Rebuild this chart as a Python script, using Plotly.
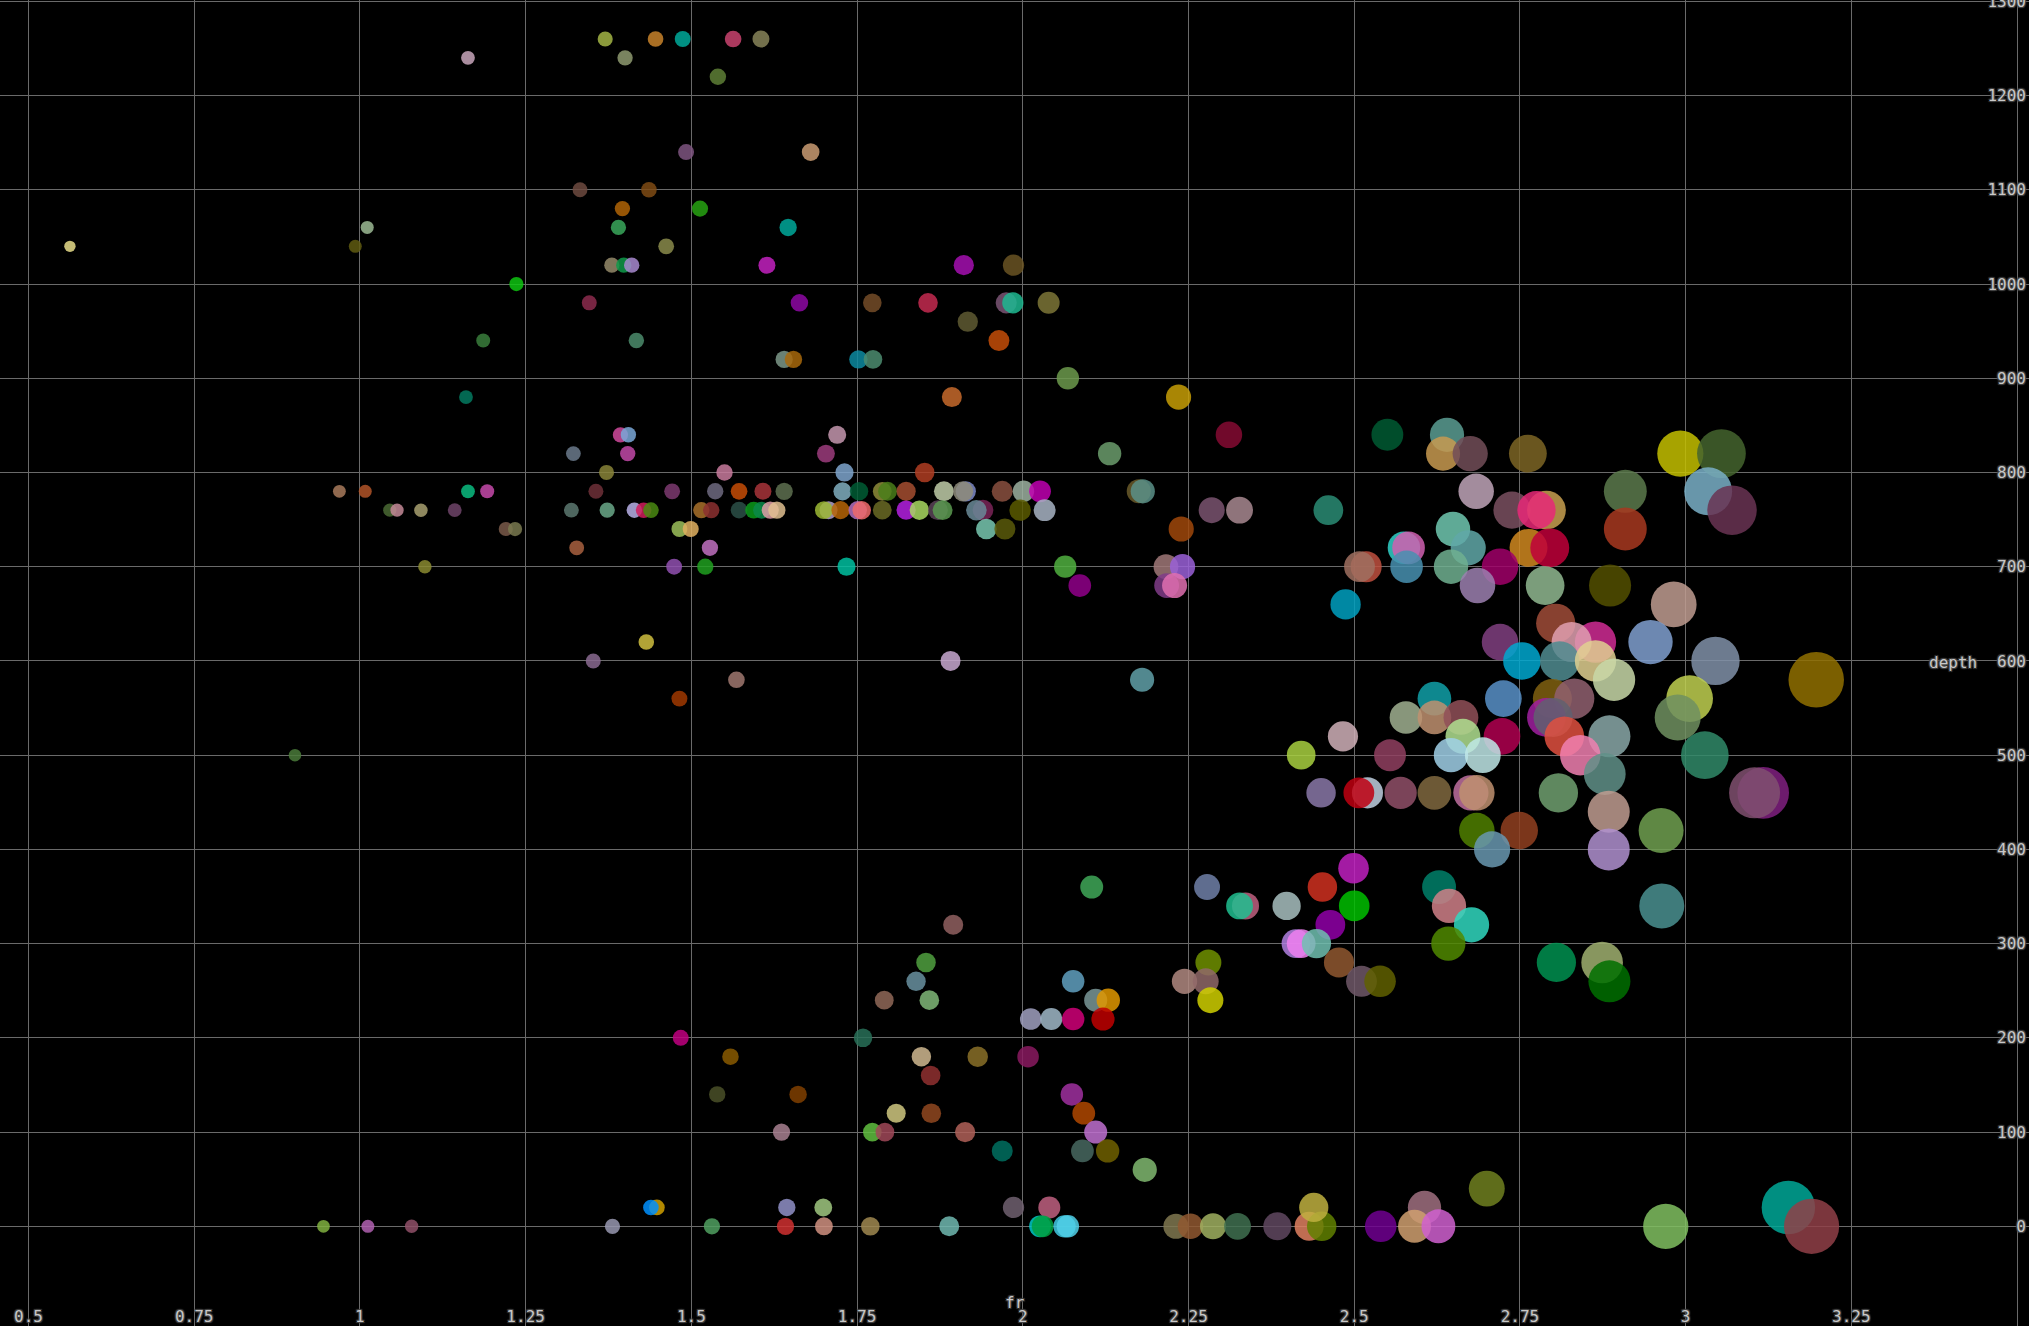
import numpy as np
import plotly.graph_objects as go

# ---- data: fr (x) and depth (y), row by row ----
fr = [
    1.370, 1.446, 1.487, 1.563, 1.605,                      # 1260
    1.163, 1.400,                                            # 1240
    1.540,                                                   # 1220
    1.492, 1.680,                                            # 1140
    1.332, 1.436,                                            # 1100
    1.396, 1.513,                                            # 1080
    1.011, 1.390, 1.646,                                     # 1060
    0.5625, 0.993, 1.462,                                    # 1040
    1.380, 1.398, 1.410, 1.614, 1.911, 1.986,                # 1020
    1.236,                                                   # 1000
    1.346, 1.663, 1.773, 1.857, 1.975, 1.985, 2.039,         # 980
    1.917,                                                   # 960
    1.186, 1.417, 1.964,                                     # 940
    1.640, 1.654, 1.752, 1.774,                              # 920
    2.068,                                                   # 900
    1.160, 1.893, 2.235,                                     # 880
    1.393, 1.405, 1.720, 2.311, 2.550, 2.640,                # 840
    1.322, 1.404, 1.703, 2.131, 2.634, 2.675, 2.762, 2.992, 3.054,  # 820
    1.372, 1.550, 1.731, 1.852,                              # 800
    0.969, 1.008, 1.163, 1.192, 1.356, 1.471, 1.536, 1.572, 1.608, 1.640,
    1.728, 1.753, 1.788, 1.796, 1.824, 1.881, 1.914, 1.910, 1.969, 2.001,
    2.026, 2.175, 2.181, 2.684, 2.909, 3.034,                # 780
    1.045, 1.056, 1.092, 1.143, 1.319, 1.373, 1.414, 1.428, 1.439, 1.515,
    1.530, 1.572, 1.594, 1.606, 1.619, 1.629, 1.707, 1.700, 1.725, 1.751,
    1.757, 1.788, 1.824, 1.844, 1.872, 1.879, 1.940, 1.930, 1.996, 2.033,
    2.285, 2.327, 2.461, 2.738, 2.790, 2.775, 3.070,         # 760
    1.220, 1.234, 1.482, 1.499, 1.945, 1.973, 2.239, 2.649, 2.909,  # 740
    1.327, 1.528, 2.575, 2.582, 2.672, 2.763, 2.795,         # 720
    1.098, 1.474, 1.521, 1.734, 2.064, 2.216, 2.241, 2.518, 2.508, 2.579,
    2.646, 2.720,                                            # 700
    2.086, 2.217, 2.229, 2.686, 2.788, 2.886,                # 680
    2.487, 2.982,                                            # 660
    2.804,                                                   # 640
    1.432, 2.720, 2.864, 2.828, 2.947,                       # 620
    1.352, 1.891, 2.753, 2.810, 2.864, 3.045,                # 600
    1.568, 2.180, 2.892, 3.197,                              # 580
    1.482, 2.621, 2.725, 2.799, 2.832, 3.006,                # 560
    2.578, 2.621, 2.661, 2.790, 2.800, 2.988,                # 540
    2.483, 2.664, 2.723, 2.817, 2.885,                       # 520
    0.902, 2.420, 2.554, 2.646, 2.694, 2.841, 3.029,         # 500
    2.878,                                                   # 480
    2.450, 2.520, 2.507, 2.570, 2.621, 2.676, 2.685, 2.808, 3.117, 3.104,  # 460
    2.884,                                                   # 440
    2.685, 2.749, 2.963,                                     # 420
    2.708, 2.884,                                            # 400
    2.499,                                                   # 380
    2.104, 2.278, 2.452, 2.628,                              # 360
    2.336, 2.327, 2.398, 2.500, 2.643, 2.964,                # 340
    1.895, 2.464, 2.677,                                     # 320
    2.412, 2.420, 2.443, 2.642,                              # 300
    1.854, 2.280, 2.477, 2.805, 2.874,                       # 280
    1.839, 2.076, 2.244, 2.276, 2.511, 2.539, 2.885,         # 260
    1.791, 1.859, 2.110, 2.129, 2.283,                       # 240
    2.012, 2.043, 2.076, 2.121,                              # 220
    1.484, 1.759,                                            # 200
    1.559, 1.847, 1.932, 2.008,                              # 180
    1.861,                                                   # 160
    1.539, 1.661, 2.074,                                     # 140
    1.809, 1.862, 2.092,                                     # 120
    1.636, 1.773, 1.792, 1.913, 2.110,                       # 100
    1.969, 2.090, 2.128,                                     # 80
    2.184,                                                   # 60
    2.700,                                                   # 40
    1.448, 1.439, 1.644, 1.699, 1.986, 2.040, 2.606, 3.155,  # 20
    0.945, 1.012, 1.078, 1.381, 1.531, 1.642, 1.700, 1.770, 1.889, 2.026,
    2.030, 2.063, 2.068, 2.231, 2.253, 2.287, 2.324, 2.384, 2.432, 2.451,
    2.540, 2.591, 2.627, 2.970, 3.190,                       # 0
    2.439,                                                   # 20 (on top)
]

depth = (
    [1260] * 5 + [1240] * 2 + [1220] * 1 + [1140] * 2 + [1100] * 2 + [1080] * 2
    + [1060] * 3 + [1040] * 3 + [1020] * 6 + [1000] * 1 + [980] * 7 + [960] * 1
    + [940] * 3 + [920] * 4 + [900] * 1 + [880] * 3 + [840] * 6 + [820] * 9
    + [800] * 4 + [780] * 26 + [760] * 37 + [740] * 9 + [720] * 7 + [700] * 12
    + [680] * 6 + [660] * 2 + [640] * 1 + [620] * 5 + [600] * 6 + [580] * 4
    + [560] * 6 + [540] * 6 + [520] * 5 + [500] * 7 + [480] * 1 + [460] * 10
    + [440] * 1 + [420] * 3 + [400] * 2 + [380] * 1 + [360] * 4 + [340] * 6
    + [320] * 3 + [300] * 4 + [280] * 5 + [260] * 7 + [240] * 5 + [220] * 4
    + [200] * 2 + [180] * 4 + [160] * 1 + [140] * 3 + [120] * 3 + [100] * 5
    + [80] * 3 + [60] * 1 + [40] * 1 + [20] * 8 + [0] * 25 + [20] * 1
)

x_title = "fr"
y_title = "depth"

# ---- per-point colours (style) ----
point_colors = [
    '#a3b545', '#c8832a', '#00a99a', '#c9436f', '#878459',
    '#c8a6bb', '#8e9a70',
    '#5e7f36',
    '#7e5580', '#c99b72',
    '#6d4a40', '#7f4b14',
    '#b06406', '#27a212',
    '#9cba94', '#3aa85c', '#00a89a',
    '#e7dd8a', '#5f5b10', '#898b4b',
    '#948a6a', '#0f9a4a', '#a88ad0', '#c321c0', '#a40fb0', '#6a5423',
    '#0ec410',
    '#8c2c4e', '#8e08a4', '#744c28', '#c42a50', '#7a5574', '#1db891', '#7c7637',
    '#5f5b32',
    '#3a7e3c', '#4c8c6c', '#c44d08',
    '#7c9888', '#a8690c', '#0d8aa0', '#4c8c70',
    '#6c9a4c',
    '#037a60', '#c76a2c', '#c79d06',
    '#d04a9c', '#7aa8d8', '#c497ae', '#850a33', '#005a32', '#5a9e93',
    '#6b7a8c', '#c249a8', '#9c3c7c', '#6b9c6c', '#c89a50', '#724e58', '#7c6524', '#c4c000', '#44642e',
    '#888438', '#c87a9c', '#7ea4cc', '#b03d22',
    '#a87a5c', '#b05428', '#0abc80', '#c64aaa', '#6e3038', '#7c3a70', '#6e6a80', '#c64c06', '#a8343a', '#5e7050',
    '#80aec0', '#005c34', '#8e8c3a', '#4a7e1a', '#a44e30', '#c0cca8', '#7c88c8', '#8e8c7a', '#8a5040', '#9cb0a0',
    '#c000b0', '#6a5a2a', '#5a9088', '#c0a4b8', '#5c7a4c', '#7ab0c8',
    '#4a6a34', '#c48a98', '#a8a070', '#6e4468', '#5c7870', '#6aa888', '#b8b0e8', '#d01c5c', '#4a8a12', '#a8702a',
    '#8c3030', '#2c5048', '#0a9a1a', '#0a8a4a', '#e0a0a8', '#e0c090', '#b0a0c8', '#9cb834', '#b66406', '#b070c0',
    '#f06a6a', '#6a6a24', '#b420e0', '#a8d860', '#5a4458', '#5a9a50', '#7a2458', '#6a8a98', '#5a5a00', '#a8b4c4',
    '#7a5470', '#a88890', '#2a8c74', '#7a5060', '#c8a050', '#e82878', '#6a3454',
    '#7a5a4a', '#7a7a50', '#9cc05a', '#e0b060', '#78c8b0', '#5a5a0a', '#a0480a', '#70c8b0', '#a83820',
    '#a86040', '#c070c0', '#30d0c8', '#d060b0', '#60a8a8', '#d08820', '#c0003a',
    '#8a8a30', '#9050b0', '#20a020', '#00c0a0', '#50b040', '#a07878', '#9a60d8', '#c05040', '#a07060', '#4890b0',
    '#70b090', '#a00068',
    '#90008a', '#803c88', '#e070b0', '#9c80b0', '#90b890', '#545000',
    '#00a0c0', '#c09c90',
    '#a04c38',
    '#d0c040', '#804080', '#d02c94', '#e0a0b0', '#80a0d0',
    '#8a6a90', '#c8a8d0', '#00a8d0', '#508c90', '#e0d090', '#8090a8',
    '#a07870', '#60a0a8', '#c8d8a8', '#907000',
    '#a03800', '#10a0a8', '#5890c8', '#806010', '#906070', '#c0d050',
    '#a0b090', '#c09070', '#905058', '#a020a0', '#606070', '#709060',
    '#d0b0b8', '#b0e090', '#b00050', '#e05040', '#8aa8a8',
    '#4a7a3a', '#a8d040', '#904060', '#a0d0e8', '#c0e8e8', '#f080b0', '#308a68',
    '#609088',
    '#8a78a8', '#c0d0e0', '#c00010', '#905068', '#806840', '#c070a0', '#c09070', '#70a070', '#802080', '#805070',
    '#c09c90',
    '#508000', '#904020', '#70a050',
    '#6898b0', '#b090d0',
    '#c020c0',
    '#40a858', '#7080a8', '#d03020', '#00806a',
    '#c06080', '#20c090', '#a8c0c0', '#00c000', '#d08088', '#4a9090',
    '#906060', '#9000a8', '#30d8c0',
    '#b080e0', '#f080f0', '#70c0b0', '#508a00',
    '#50a040', '#709000', '#905830', '#009050', '#a0b070',
    '#6890a0', '#60a0c0', '#b08880', '#906868', '#705868', '#606000', '#007000',
    '#906858', '#80b878', '#7a9898', '#e09800', '#d0d000',
    '#a0a0c0', '#a0b8c8', '#d00078', '#c00000',
    '#c00080', '#287058',
    '#8a5a00', '#d0b890', '#8a7028', '#8a1a60',
    '#903030',
    '#4a5028', '#804000', '#a030a0',
    '#d0c880', '#904820', '#b04800',
    '#a88090', '#60c040', '#a04858', '#b06058', '#c070d0',
    '#007060', '#486860', '#706000',
    '#80b870',
    '#708020',
    '#d0a000', '#0090ff', '#9090c8', '#a0c880', '#706070', '#c06080', '#a07080', '#00a898',
    '#80b040', '#b060b0', '#905068', '#9898b0', '#50a060', '#d03030', '#d09080', '#a08850', '#70b8b0', '#00c8c8',
    '#00a040', '#40c8e0', '#50d0e8', '#807850', '#905830', '#a0b060', '#407050', '#604860', '#e08060', '#608000',
    '#700090', '#d0a070', '#d060d0', '#80c060', '#904048',
    '#c0b040',
]

assert len(fr) == len(depth) == len(point_colors), (len(fr), len(depth), len(point_colors))

fr_arr = np.array(fr)
# marker diameter grows with fr (visual encoding)
marker_px = 8.73 + 1.435 * np.exp(1.09 * fr_arr)

FONT = "DejaVu Sans Mono"
TXT = "#c8c8c8"
GRID = "#6a6a6a"
tfont = dict(family=FONT, size=16, color=TXT, shadow="auto")

fig = go.Figure(
    go.Scatter(
        x=fr, y=depth, mode="markers",
        marker=dict(size=marker_px, color=point_colors, opacity=0.85, line=dict(width=0)),
        hoverinfo="skip",
    )
)

fig.update_layout(
    width=2029, height=1326,
    paper_bgcolor="black", plot_bgcolor="black",
    margin=dict(l=0, r=0, t=0, b=0),
    showlegend=False,
    font=tfont,
    xaxis=dict(
        range=[0.457, 3.518], dtick=0.25, tick0=0.5,
        ticklabelposition="inside", ticklabeloverflow="hide past div",
        ticklabelstandoff=-2,
        tickfont=tfont,
        showgrid=True, gridcolor=GRID, gridwidth=1,
        zeroline=False, showline=False, ticks="",
        automargin=False,
    ),
    yaxis=dict(
        side="right",
        range=[-105.8, 1301.4], dtick=100, tick0=0,
        ticklabelposition="inside", ticklabeloverflow="allow",
        tickfont=tfont,
        showgrid=True, gridcolor=GRID, gridwidth=1,
        zeroline=False, showline=False, ticks="",
        automargin=False,
    ),
    annotations=[
        dict(text=x_title, xref="paper", yref="paper", x=0.5, y=1 - 1302 / 1326,
             xanchor="center", yanchor="middle", showarrow=False, font=tfont),
        dict(text=y_title, xref="paper", yref="paper", x=1953 / 2029, y=1 - 662 / 1326,
             xanchor="center", yanchor="middle", showarrow=False, font=tfont),
    ],
)

fig.write_html("out.html")
